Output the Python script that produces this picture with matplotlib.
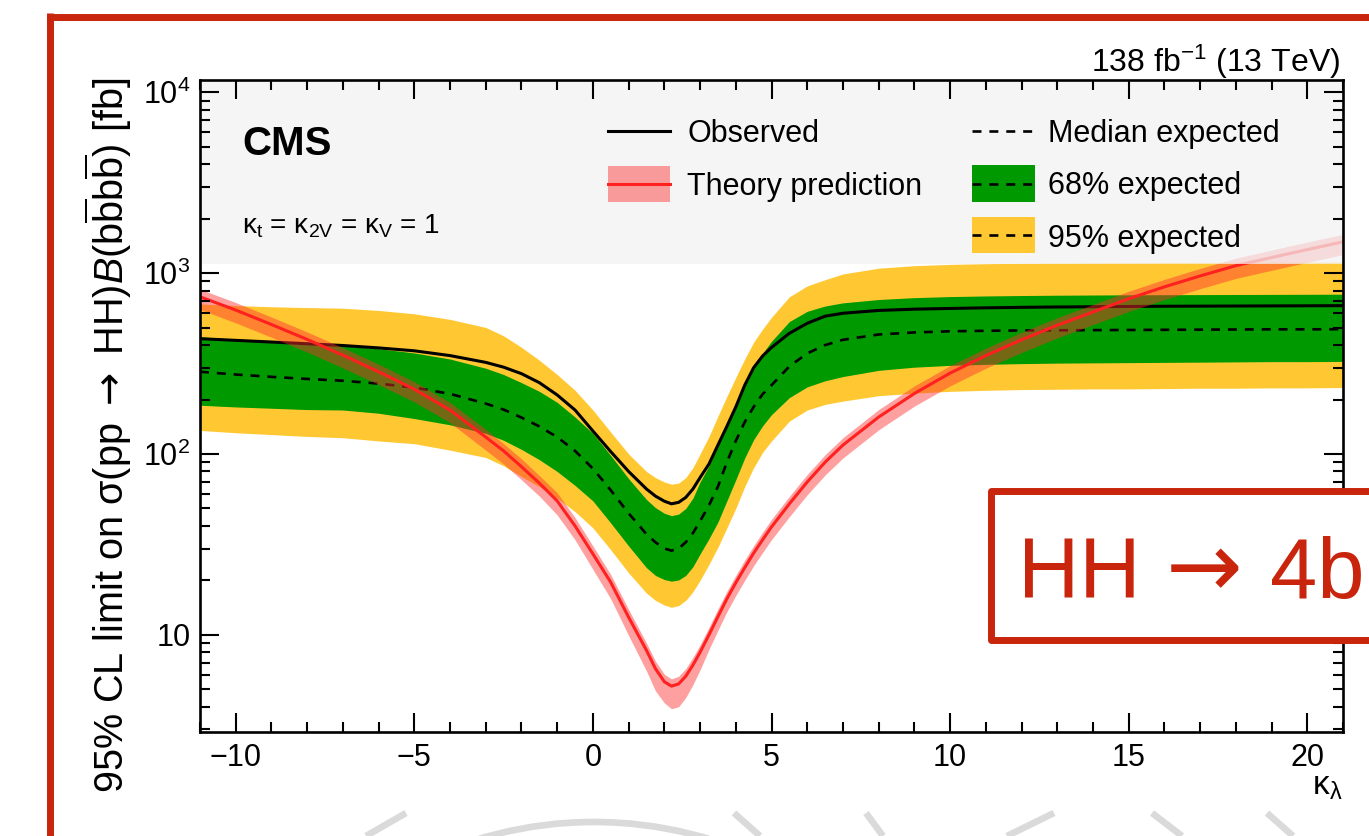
import numpy as np
import matplotlib
matplotlib.use("Agg")
import matplotlib.pyplot as plt
from matplotlib.lines import Line2D
from matplotlib.patches import Rectangle, Arc
from matplotlib.ticker import MultipleLocator, LogLocator, NullFormatter

plt.rcParams['font.family'] = ['Liberation Sans', 'DejaVu Sans']
plt.rcParams['mathtext.fontset'] = 'custom'
plt.rcParams['mathtext.rm'] = 'Liberation Sans'
plt.rcParams['mathtext.it'] = 'Liberation Sans:italic'
plt.rcParams['mathtext.bf'] = 'Liberation Sans:bold'
plt.rcParams['mathtext.sf'] = 'DejaVu Sans'   # used only for the arrow

# ---- values ----
kl = [-11, -10, -9, -8, -7, -6, -5, -4, -3,
      -2.5, -2, -1.5, -1, -0.5, 0, 0.5, 1, 1.5,
      1.75, 2, 2.2, 2.4, 2.6, 2.8, 3,
      3.25, 3.5, 3.75, 4, 4.25, 4.5, 4.75, 5,
      5.5, 6, 6.5, 7,
      8, 9, 10, 11, 12, 13, 14, 15, 16, 17, 18, 19, 20, 21]

observed = [434, 425, 416, 407, 398, 386, 372, 350, 321,
            302, 278, 248, 212, 175, 134, 103, 80, 64,
            58.5, 54.8, 53, 54, 57.5, 64, 74,
            88, 112, 142, 182, 240, 300, 348, 388,
            465, 528, 578, 600,
            622, 632, 638, 643, 647, 650, 652, 654, 656, 657, 658, 659, 660, 661]

expected = [285, 275, 267, 260, 254, 245, 233, 215, 190,
            176, 159, 142, 124, 104, 83, 63, 47, 36,
            32.5, 30, 29.2, 30, 32.5, 36.5, 42.5,
            52, 66, 90, 118, 150, 182, 214, 240,
            305, 360, 400, 428,
            458, 470, 477, 480, 482, 483, 484, 485, 486, 487, 488, 489, 489, 490]

band68_up = [445, 430, 417, 406, 396, 382, 362, 335, 298,
             275, 248, 222, 193, 160, 130, 98, 73, 56,
             50.5, 47, 45.6, 46.5, 50, 57, 70,
             86, 112, 145, 188, 240, 295, 360, 420,
             540, 615, 658, 685,
             715, 732, 742, 748, 752, 755, 757, 759, 760, 761, 762, 763, 764, 765]

band68_down = [186, 182, 179, 176, 175, 168, 157, 145, 130,
               119, 106, 93, 80, 67, 55, 41.5, 31, 23.5,
               21.3, 20.2, 19.8, 20.1, 21.3, 23.8, 28,
               34, 42, 55, 72, 95, 120, 143, 165,
               205, 235, 254, 268,
               290, 302, 309, 313, 316, 318, 319, 320, 321, 322, 323, 324, 324, 325]

band95_up = [676, 662, 652, 645, 640, 622, 596, 555, 501,
             450, 389, 330, 275, 225, 175, 132, 100, 80,
             74, 70, 68, 69, 74, 84, 100,
             125, 162, 208, 265, 335, 415, 490, 570,
             740, 850, 920, 990,
             1065, 1100, 1118, 1128, 1134, 1138, 1141, 1143, 1145, 1146, 1147, 1148, 1149, 1150]

band95_down = [135, 131, 128, 125, 123, 118, 114, 105, 95.6,
               86, 75, 66, 57, 48, 39, 29.5, 22, 17,
               15.5, 14.6, 14.2, 14.5, 15.5, 17.3, 20,
               24.5, 30.5, 39, 50, 66, 84, 102, 118,
               152, 175, 188, 196,
               210, 217, 222, 225, 227, 228, 229, 229, 230, 231, 231, 232, 232, 233]

theory = [740, 625, 520, 430, 352, 285, 228, 175, 124,
          104, 85, 69, 55, 40, 28, 19.5, 12.5, 8.2,
          6.5, 5.5, 5.2, 5.35, 5.9, 6.8, 8.0,
          10.0, 12.6, 15.8, 19.4, 23.5, 28.3, 33.5, 39.5,
          53, 70, 90, 112,
          160, 216, 280, 350, 428, 515, 610, 722, 840, 965, 1100, 1220, 1350, 1490]

theory_up = [815, 688, 572, 473, 387, 314, 251, 193, 137,
             114, 94, 76, 61, 44.5, 31, 21.5, 13.8, 9.0,
             7.15, 6.05, 5.7, 5.9, 6.5, 7.5, 8.8,
             11.0, 13.9, 17.4, 21.3, 25.9, 31.1, 36.9, 43.5,
             58.3, 77, 99, 123,
             176, 238, 308, 385, 471, 567, 671, 794, 924, 1062, 1210, 1342, 1485, 1639]

theory_down = [630, 531, 442, 366, 299, 242, 194, 149, 105,
               88, 72, 58.5, 46, 33.5, 23, 15.8, 9.9, 6.3,
               4.9, 4.2, 3.9, 4.0, 4.5, 5.3, 6.4,
               8.3, 10.6, 13.4, 16.5, 20, 24.1, 28.5, 33.6,
               45, 59.5, 76.5, 95,
               136, 184, 238, 298, 364, 438, 519, 614, 714, 820, 935, 1037, 1148, 1267]

ytick_vals = [10, 100, 1000, 10000]
ytick_labels = ["10", "$10^{2}$", "$10^{3}$", "$10^{4}$"]

W, H = 1369, 836
YELLOW = "#ffc832"
GREEN = "#009900"
TH_BAND = "#ff3030"
TH_LINE = "#ff2020"
FRAME = "#c8250c"
DASH = (0, (3.4, 3.0))


def fx(x):
    return x / W


def fy(y):
    return 1 - y / H


fig = plt.figure(figsize=(W / 100, H / 100), dpi=100)
ax = fig.add_axes([fx(200), fy(732), (1343 - 200) / W, (732 - 80) / H])
ax.set_yscale("log")

ax.fill_between(kl, band95_down, band95_up, color=YELLOW, lw=0, zorder=1)
ax.fill_between(kl, band68_down, band68_up, color=GREEN, lw=0, zorder=2)
ax.plot(kl, expected, color="black", lw=1.9, ls=DASH, zorder=3)
ax.plot(kl, observed, color="black", lw=2.2, zorder=4, solid_joinstyle="round")
ax.fill_between(kl, theory_down, theory_up, color=TH_BAND, alpha=0.46, lw=0, zorder=5)
ax.plot(kl, theory, color=TH_LINE, lw=2.2, zorder=6, solid_joinstyle="round")

ax.set_xlim(-11, 21)
ax.set_ylim(2.9, 1.17e4)
# legend area is a see-through grey box over the curves
ax.axhspan(1130, 1.17e4, color="#f2f2f2", alpha=0.72, lw=0, zorder=7)

ax.xaxis.set_major_locator(MultipleLocator(5))
ax.xaxis.set_minor_locator(MultipleLocator(1))
ax.set_yticks(ytick_vals)
ax.set_yticklabels(ytick_labels)
ax.yaxis.set_minor_locator(LogLocator(base=10, subs=np.arange(2, 10)))
ax.yaxis.set_minor_formatter(NullFormatter())
ax.tick_params(which="both", direction="in", top=True, right=True,
               labelsize=22, width=1.5, color="black")
ax.tick_params(which="major", length=14)
ax.tick_params(which="minor", length=7.5)
ax.tick_params(axis="x", pad=8)
ax.tick_params(axis="y", pad=7)
for s in ax.spines.values():
    s.set_linewidth(1.9)
    s.set_zorder(8)
ax.xaxis.set_zorder(8)
ax.yaxis.set_zorder(8)

# axis titles
fig.text(fx(108), fy(78),
         "95% CL limit on σ(pp $\\mathsf{\\rightarrow}$ HH)$\\mathit{B}$(b$\\overline{\\rm b}$b$\\overline{\\rm b}$) [fb]",
         rotation=90, ha="center", va="top", fontsize=28.5)
fig.text(fx(1342), fy(795), "κ$_{\\mathrm{λ}}$", ha="right", va="baseline", fontsize=24)
fig.text(fx(1340), fy(72), "138 fb$^{-1}$ (13 TeV)", ha="right", va="baseline", fontsize=23)

# CMS label and couplings
fig.text(fx(242), fy(155), "CMS", fontsize=29, fontweight="bold", va="baseline")
fig.text(fx(242), fy(234), "κ$_{\\rm t}$ = κ$_{\\rm 2V}$ = κ$_{\\rm V}$ = 1", fontsize=20, va="baseline")


# legend drawn by hand
def add_line(x0, x1, y, **kw):
    fig.add_artist(Line2D([fx(x0), fx(x1)], [fy(y), fy(y)], **kw))


def add_box(x0, x1, y0, y1, **kw):
    fig.add_artist(Rectangle((fx(x0), fy(y1)), (x1 - x0) / W, (y1 - y0) / H,
                             transform=fig.transFigure, lw=0, **kw))


add_line(608, 670, 131, color="black", lw=2.2)
add_box(608, 670, 166, 202, color=TH_BAND, alpha=0.46)
add_line(608, 670, 184, color=TH_LINE, lw=2.2)
add_line(972, 1035, 131, color="black", lw=1.9, ls=DASH)
add_box(972, 1035, 165, 202, color=GREEN)
add_line(972, 1035, 184, color="black", lw=1.9, ls=DASH)
add_box(972, 1035, 217, 253, color=YELLOW)
add_line(972, 1035, 235, color="black", lw=1.9, ls=DASH)

leg_fs = 22
fig.text(fx(687), fy(142), "Observed", fontsize=leg_fs, va="baseline")
fig.text(fx(687), fy(195), "Theory prediction", fontsize=leg_fs, va="baseline")
fig.text(fx(1048), fy(142), "Median expected", fontsize=leg_fs, va="baseline")
fig.text(fx(1048), fy(194), "68% expected", fontsize=leg_fs, va="baseline")
fig.text(fx(1048), fy(247), "95% expected", fontsize=leg_fs, va="baseline")

# outer red frame
fig.add_artist(Line2D([fx(50), fx(50)], [fy(13), fy(840)], color=FRAME, lw=5, solid_capstyle="butt"))
fig.add_artist(Line2D([fx(47), fx(1375)], [fy(16.5), fy(16.5)], color=FRAME, lw=5, solid_capstyle="butt"))

# HH -> 4b box (text placed piece by piece so the arrow sits like the original)
fig.add_artist(Rectangle((fx(991), fy(640)), (1420 - 991) / W, (640 - 491) / H,
                         transform=fig.transFigure, facecolor="white", edgecolor=FRAME,
                         lw=5, joinstyle="round", zorder=10))
fig.text(fx(1018), fy(598), "HH", fontsize=61, color=FRAME, va="baseline", zorder=11)
fig.text(fx(1204), fy(571), "→", family="DejaVu Sans", fontsize=66, color=FRAME,
         ha="center", va="center", zorder=11)
fig.text(fx(1270), fy(598), "4b", fontsize=61, color=FRAME, va="baseline", zorder=11)

# faint watermark strokes at the bottom
wm = dict(color="#dadada", lw=4.8, solid_capstyle="butt")
for (x0, y0, x1, y1) in [(406, 813, 366, 836), (734, 813, 760, 836), (866, 813, 883, 836),
                         (1054, 813, 1007, 836), (1152, 813, 1182, 836), (1267, 813, 1293, 836)]:
    fig.add_artist(Line2D([fx(x0), fx(x1)], [fy(y0), fy(y1)], **wm))
fig.add_artist(Arc((fx(594), fy(1222)), 2 * 400 / W, 2 * 400 / H, theta1=72, theta2=108,
                   transform=fig.transFigure, color="#dadada", lw=4.8))

fig.savefig("out.png", dpi=100)
